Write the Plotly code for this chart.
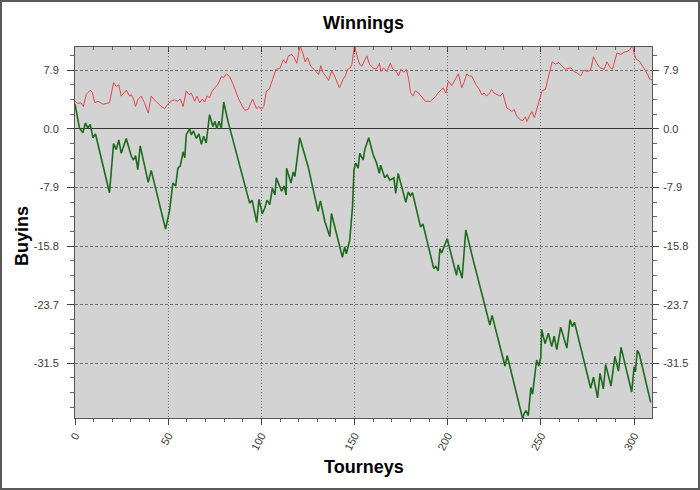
import plotly.graph_objects as go

# ---------------- data ----------------
green_x = [0, 1.0, 2.4, 4.2, 5.6, 6.9, 8.2, 9.6, 11.0, 18.5, 20.7, 22.1, 23.5, 24.8, 27.5, 30.2, 31.4,
           32.5, 33.7, 35.0, 37.3, 39.3, 40.9, 48.6, 50.8, 52.5, 54.0, 55.2, 56.5, 58.0, 58.9, 59.7,
           61.5, 62.4, 63.6, 65.1, 66.5, 67.8, 69.0, 70.4, 72.2, 74.0, 75.1, 76.1, 77.2, 78.5, 79.8,
           82.1, 93.7, 95.0, 97.5, 98.7, 100.5, 101.8, 103.0, 104.5, 105.9, 107.3, 108.0, 109.6,
           110.9, 112.2, 113.3, 113.5, 115.2, 115.9, 117.1, 118.0, 120.6, 122.4, 125.1, 130.4,
           131.7, 134.1, 136.7, 137.6, 140.6, 143.5, 144.7, 145.6, 147.4, 148.9, 149.7, 150.6,
           151.9, 152.8, 154.6, 155.5, 157.6, 160.0, 161.8, 163.3, 164.0, 166.2, 167.5, 168.9,
           171.1, 172.1, 173.4, 175.2, 177.5, 178.8, 180.0, 181.1, 185.4, 186.7, 192.5, 193.6,
           194.9, 195.8, 196.7, 199.7, 202.0, 204.7, 205.6, 207.7, 209.7, 213.6, 222.6, 223.8,
           230.7, 231.9, 240.2, 241.0, 242.0, 243.2, 244.6, 245.5, 247.7, 248.8, 249.9, 250.4,
           252.2, 254.0, 255.8, 257.1, 258.5, 260.6, 263.9, 265.6, 266.9, 268.0, 276.7, 278.2,
           280.4, 281.7, 283.5, 284.7, 287.6, 289.7, 291.6, 293.0, 298.7, 300.0, 300.7, 301.7,
           302.8, 308.9]
green_y = [3.3, 1.8, 0.1, -0.55, 0.8, 0.1, 0.6, -1.2, -0.7, -8.6, -2.0, -2.8, -1.5, -3.3, -1.3, -3.7, -4.2,
           -3.6, -5.5, -2.3, -5.0, -7.2, -5.6, -13.5, -10.9, -7.3, -7.7, -5.3, -5.0, -3.1, -3.9, -0.8,
           0.0, -0.8, -0.3, -1.3, -0.7, -2.1, -1.0, -1.9, 1.9, 0.3, 1.0, 0.0, 1.0, 0.1, 3.6,
           1.0, -10.0, -9.6, -12.6, -9.5, -11.4, -10.7, -9.6, -10.2, -8.0, -8.9, -6.6, -7.7,
           -8.4, -7.7, -8.9, -5.3, -6.6, -7.3, -5.8, -6.4, -1.2, -2.8, -5.1, -11.1,
           -9.7, -12.5, -14.5, -11.4, -14.5, -17.3, -15.9, -16.8, -15.0, -10.5, -5.5, -4.6,
           -5.3, -3.3, -4.2, -2.8, -1.2, -3.5, -4.6, -6.0, -4.9, -6.6, -6.2, -6.9,
           -6.6, -8.7, -6.0, -7.6, -9.9, -8.5, -9.0, -8.6, -13.2, -12.8, -18.8, -18.5,
           -19.1, -16.1, -16.7, -14.8, -17.2, -19.7, -18.3, -20.1, -13.6, -17.6, -26.4, -25.1,
           -31.9, -30.5, -39.0, -38.3, -37.9, -38.6, -34.8, -35.7, -31.1, -31.9, -30.8, -27.0,
           -28.9, -27.5, -29.3, -27.9, -29.7, -26.7, -29.5, -25.7, -26.6, -26.0, -34.9, -33.4,
           -36.2, -32.9, -35.0, -31.7, -34.6, -30.6, -32.6, -29.4, -35.4, -32.0, -32.7, -29.8,
           -30.3, -36.8]

red_x = [0, 1.4, 3.2, 4.5, 6.0, 8.2, 9.3, 10.6, 12.4, 13.6, 15.0, 18.5, 20.7, 22.1, 23.5, 24.8, 26.1,
         27.5, 29.3, 30.2, 31.4, 32.5, 33.7, 35.5, 37.3, 39.3, 40.9, 42.1, 43.9, 46.2, 48.1, 49.8,
         51.6, 53.4, 55.2, 56.5, 58.0, 59.7, 61.2, 62.4, 64.2, 65.4, 66.9, 68.3, 69.6, 70.8, 72.2,
         73.7, 74.9, 76.7, 78.5, 79.8, 81.2, 83.0, 84.8, 87.5, 89.8, 91.1, 92.9, 95.3, 97.4, 98.7,
         100.0, 101.3, 102.7, 104.2, 106.0, 107.8, 109.9, 111.8, 113.2, 114.5, 116.3, 117.5, 119.0,
         120.8, 122.2, 123.5, 124.7, 126.5, 128.3, 130.7, 131.9, 133.0, 134.8, 136.0, 137.8, 139.6,
         141.9, 143.7, 145.0, 146.3, 147.7, 148.6, 150.0, 151.3, 152.7, 153.9, 155.2, 156.6, 158.0,
         159.8, 161.6, 163.4, 164.1, 165.6, 167.4, 169.2, 170.6, 172.4, 173.6, 174.9, 176.4, 177.8,
         179.1, 180.0, 181.4, 182.6, 184.4, 185.7, 188.0, 190.7, 192.2, 193.4, 194.7, 196.1, 197.6,
         199.0, 200.3, 202.1, 203.9, 205.7, 207.5, 208.7, 210.2, 211.6, 212.8, 214.1, 215.5, 217.0,
         218.2, 219.5, 220.9, 222.4, 223.6, 224.9, 226.3, 228.1, 229.5, 231.7, 233.1, 234.4, 235.6,
         237.1, 238.9, 240.3, 241.6, 242.5, 244.0, 245.2, 246.5, 248.2, 249.3, 250.6, 252.4, 254.2,
         256.0, 257.8, 259.6, 261.4, 263.2, 264.5, 266.0, 267.7, 269.5, 271.3, 273.1, 274.9, 276.7,
         278.2, 280.0, 281.7, 283.9, 285.4, 287.2, 288.4, 289.7, 290.8, 292.9, 294.7, 296.2, 298.0,
         299.2, 300.1, 301.0, 302.8, 304.6, 305.9, 307.3, 308.2, 309.5]
red_y = [3.7, 3.4, 3.5, 3.0, 4.6, 5.2, 4.9, 3.5, 3.7, 3.5, 3.3, 3.5, 6.2, 5.7, 5.9, 4.4, 4.8,
         5.2, 4.4, 4.6, 4.0, 3.0, 3.9, 4.4, 3.5, 2.1, 4.4, 4.0, 3.6, 3.0, 2.7, 3.3,
         3.7, 3.9, 3.7, 4.0, 3.0, 5.1, 4.6, 4.8, 3.7, 4.4, 3.5, 4.0, 3.6, 4.4, 4.2,
         5.1, 5.5, 6.0, 7.0, 6.9, 7.4, 7.0, 6.0, 4.2, 3.0, 2.5, 2.6, 4.0, 2.7, 3.0,
         2.6, 3.0, 5.1, 5.3, 6.6, 8.0, 8.1, 9.3, 8.8, 9.8, 10.0, 9.6, 8.8,
         11.2, 10.2, 9.0, 9.6, 8.4, 8.0, 7.3, 8.5, 7.6, 7.0, 6.5, 7.8, 6.9,
         5.5, 6.6, 7.1, 8.0, 8.2, 8.7, 11.3, 9.8, 8.7, 8.4, 9.1, 9.8, 8.7,
         8.2, 8.0, 8.8, 7.7, 8.2, 7.7, 8.8, 8.0, 7.7, 7.1, 8.0, 7.6, 8.0,
         6.6, 4.9, 4.4, 5.1, 4.8, 4.4, 3.7, 3.7, 4.0, 4.3, 4.8, 5.1, 5.5,
         4.8, 6.4, 5.8, 6.6, 7.4, 5.5, 6.2, 7.4, 7.1, 7.1, 6.4, 5.8, 5.3,
         4.6, 4.8, 4.4, 4.8, 5.3, 4.8, 4.6, 4.4, 4.8, 2.8, 2.6, 2.3, 2.6,
         1.7, 1.2, 1.1, 1.6, 1.0, 1.8, 2.3, 1.5, 3.0, 3.7, 5.1, 5.3, 7.1,
         9.0, 8.7, 8.9, 8.4, 8.0, 8.1, 8.2, 7.7, 7.5, 7.1, 7.9, 7.7, 7.9,
         9.7, 8.8, 8.2, 8.0, 9.0, 8.2, 8.0, 9.1, 10.2, 10.0, 10.3, 10.4, 10.7,
         11.3, 10.0, 9.4, 9.1, 8.4, 7.9, 7.3, 6.7, 6.6]

x_tick_vals = [0, 50, 100, 150, 200, 250, 300]
y_tick_step = 7.885
y_tick_mult = [1, 0, -1, -2, -3, -4]
y_tick_labels = ["7.9", "0.0", "-7.9", "-15.8", "-23.7", "-31.5"]

chart_title = "Winnings"
x_title = "Tourneys"
y_title = "Buyins"

assert len(green_x) == len(green_y), (len(green_x), len(green_y))
assert len(red_x) == len(red_y), (len(red_x), len(red_y))

y_tick_vals = [y_tick_step * k for k in y_tick_mult]

XR = [0, 309.6]
YR = [-38.9, 11.0]

FONT = "Liberation Sans, Arial, sans-serif"
TICKFONT = dict(family=FONT, size=11, color="#3a3a3a")
AXC = "#555555"
GRIDC = "#707070"

fig = go.Figure()
fig.add_trace(go.Scatter(x=green_x, y=green_y, mode="lines",
                         line=dict(color="#1c6b1c", width=1.6), hoverinfo="skip"))
fig.add_trace(go.Scatter(x=red_x, y=red_y, mode="lines",
                         line=dict(color="#e0474c", width=1), hoverinfo="skip",
                         xaxis="x2", yaxis="y2"))

fig.update_layout(
    width=700, height=490,
    margin=dict(l=75, r=48, t=47, b=72),
    paper_bgcolor="white",
    plot_bgcolor="#d3d3d3",
    showlegend=False,
    hovermode=False,
    title=dict(text=chart_title, x=0.5, xref="paper", xanchor="center",
               y=1 - 23 / 490, yref="container", yanchor="middle",
               font=dict(family=FONT, size=18, color="black", weight="bold")),
    xaxis=dict(range=XR, tickmode="array", tickvals=x_tick_vals,
               ticks="outside", ticklen=6, tickcolor="#444", tickwidth=1,
               tickangle=-62, tickfont=TICKFONT,
               showline=True, linecolor=AXC, linewidth=1, mirror=True,
               showgrid=True, gridcolor=GRIDC, griddash="1px,2px", gridwidth=1,
               zeroline=False,
               minor=dict(tick0=0, dtick=10, ticks="outside", ticklen=3,
                          tickcolor="#666", showgrid=False)),
    xaxis2=dict(range=XR, overlaying="x", side="top", anchor="y2",
                tickmode="array", tickvals=x_tick_vals, showticklabels=False,
                ticks="inside", ticklen=5, tickcolor="#444",
                showgrid=False, zeroline=False, showline=False,
                minor=dict(tick0=0, dtick=10, ticks="inside", ticklen=3,
                           tickcolor="#666", showgrid=False)),
    yaxis=dict(range=YR, tickmode="array", tickvals=y_tick_vals, ticktext=y_tick_labels,
               ticks="outside", ticklen=7, tickcolor="#444", tickwidth=1,
               tickfont=TICKFONT, ticklabelstandoff=6,
               showline=True, linecolor=AXC, linewidth=1, mirror=True,
               showgrid=True, gridcolor=GRIDC, griddash="3px,2px", gridwidth=1,
               zeroline=True, zerolinecolor="#333333", zerolinewidth=1,
               minor=dict(tick0=0, dtick=y_tick_step / 4, ticks="outside", ticklen=4,
                          tickcolor="#666", showgrid=False)),
    yaxis2=dict(range=YR, overlaying="y", side="right", anchor="x2",
                tickmode="array", tickvals=y_tick_vals, ticktext=y_tick_labels,
                ticks="outside", ticklen=6, tickcolor="#444",
                tickfont=TICKFONT, ticklabelstandoff=2,
                showgrid=False, zeroline=False, showline=False,
                minor=dict(tick0=0, dtick=y_tick_step / 4, ticks="outside", ticklen=4,
                           tickcolor="#666", showgrid=False)),
)

fig.add_annotation(text=x_title, xref="paper", yref="paper",
                   x=(364 - 75) / 577, y=-(467 - 418) / 371,
                   xanchor="center", yanchor="middle", showarrow=False,
                   font=dict(family=FONT, size=18, color="black", weight="bold"))
fig.add_annotation(text=y_title, xref="paper", yref="paper",
                   x=(22 - 75) / 577, y=(418 - 236) / 371, textangle=-90,
                   xanchor="center", yanchor="middle", showarrow=False,
                   font=dict(family=FONT, size=18, color="black", weight="bold"))

# outer frame of the picture
fig.add_shape(type="rect", xref="paper", yref="paper",
              x0=(1 - 75) / 577, x1=(699 - 75) / 577,
              y0=(418 - 489) / 371, y1=(418 - 1) / 371,
              line=dict(color="#5a5a5a", width=2), fillcolor="rgba(0,0,0,0)", layer="above")

fig.write_html("out.html",
               config={"displayModeBar": False, "staticPlot": True},
               post_script="document.body.style.margin='0';document.body.style.padding='0';")
